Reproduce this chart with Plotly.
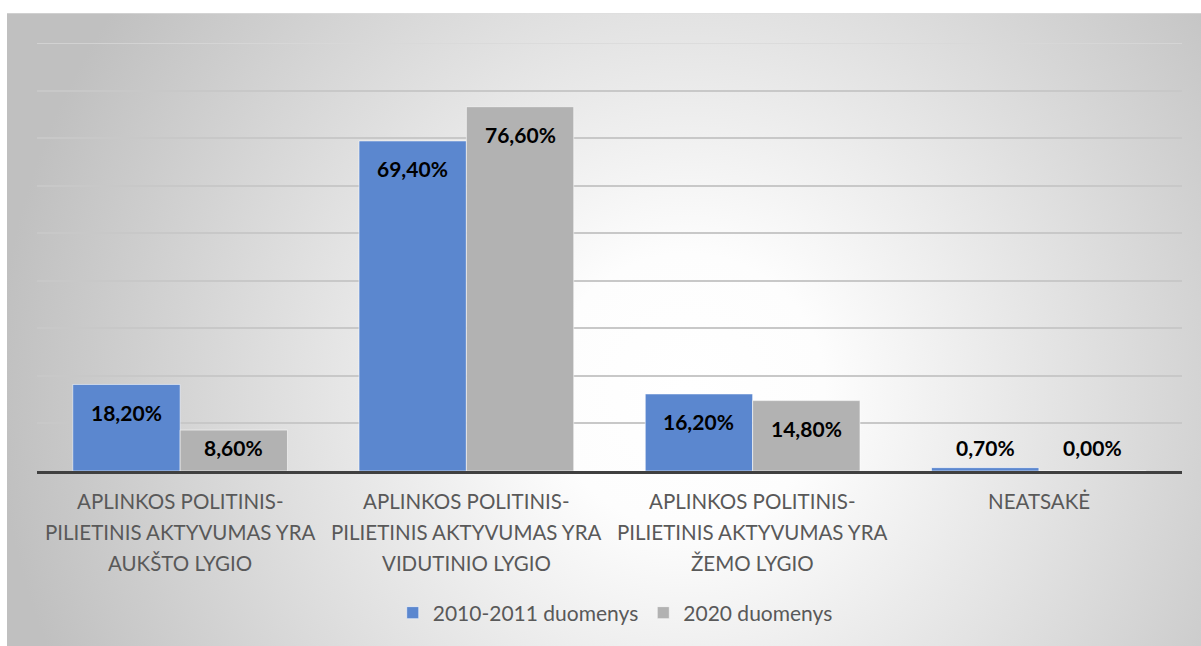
import base64
import plotly.graph_objects as go

categories = [
    "APLINKOS POLITINIS-<br>PILIETINIS AKTYVUMAS YRA<br>AUKŠTO LYGIO",
    "APLINKOS POLITINIS-<br>PILIETINIS AKTYVUMAS YRA<br>VIDUTINIO LYGIO",
    "APLINKOS POLITINIS-<br>PILIETINIS AKTYVUMAS YRA<br>ŽEMO LYGIO",
    "NEATSAKĖ",
]
series_names = ["2010-2011 duomenys", "2020 duomenys"]
values_2010 = [18.2, 69.4, 16.2, 0.7]
values_2020 = [8.6, 76.6, 14.8, 0.0]
colors = ["#5B87CF", "#B2B2B2"]

W, H = 1201, 646
L, R, T, B = 37, 19, 43, 172
plot_w = W - L - R
plot_h = H - T - B
y_max = 90

# radial gradient background panel (SVG)
pw, ph = 1194, 640
svg = (
    f"<svg xmlns='http://www.w3.org/2000/svg' width='{pw}' height='{ph}' viewBox='0 0 {pw} {ph}' preserveAspectRatio='none'>"
    "<defs><radialGradient id='g' gradientUnits='userSpaceOnUse' cx='680' cy='380' r='690'>"
    "<stop offset='0' stop-color='#ffffff'/>"
    "<stop offset='0.2' stop-color='#fdfdfd'/>"
    "<stop offset='1' stop-color='#c0c0c0'/>"
    "</radialGradient></defs>"
    f"<rect width='{pw}' height='{ph}' fill='url(#g)'/></svg>"
)
src = "data:image/svg+xml;base64," + base64.b64encode(svg.encode()).decode()

fig = go.Figure()
for name, vals, col in zip(series_names, [values_2010, values_2020], colors):
    fig.add_trace(go.Bar(
        x=categories, y=vals, name=name,
        marker=dict(color=col, line=dict(color="rgba(255,255,255,0.55)", width=1)),
        hoverinfo="skip",
    ))

px_per_unit = plot_h / y_max
group_w = plot_w / len(categories)
bar_off = group_w * 0.75 / 4

annotations = []
# data labels
for s, vals in enumerate([values_2010, values_2020]):
    for c, v in zip(categories, vals):
        ylab = max(v - 28 / px_per_unit, 24 / px_per_unit)
        annotations.append(dict(
            x=c, y=ylab, xref="x", yref="y", text=f"{v:.2f}".replace(".", ",") + "%",
            showarrow=False, xshift=(-bar_off if s == 0 else bar_off),
            yanchor="middle", xanchor="center",
            font=dict(family="Lato", size=21, color="#000000", weight="bold"),
        ))
# category labels (one annotation per line for Excel-like line spacing)
for c in categories:
    for j, line in enumerate(c.split("<br>")):
        annotations.append(dict(
            x=c, y=0, xref="x", yref="paper", text=line, showarrow=False,
            yanchor="middle", xanchor="center", yshift=-30 - 31 * j,
            font=dict(family="Lato", size=20.5, color="#595959"),
        ))

fx = lambda px: (px - L) / plot_w
fy = lambda py: (T + plot_h - py) / plot_h

shapes = [
    # white strips outside the chart panel
    dict(type="rect", xref="paper", yref="paper", x0=fx(-5), x1=fx(W + 5), y0=fy(-5), y1=fy(13),
         fillcolor="#ffffff", line=dict(width=0), layer="below"),
    dict(type="rect", xref="paper", yref="paper", x0=fx(-5), x1=fx(7), y0=fy(-5), y1=fy(H + 5),
         fillcolor="#ffffff", line=dict(width=0), layer="below"),
    # faint top gridline at axis max
    dict(type="line", xref="paper", yref="y", x0=0, x1=1, y0=y_max, y1=y_max,
         line=dict(color="#d8d8d8", width=1.5), layer="below"),
]

fig.update_layout(
    width=W, height=H,
    margin=dict(l=L, r=R, t=T, b=B, pad=0),
    paper_bgcolor="#c3c3c3",
    plot_bgcolor="rgba(0,0,0,0)",
    barmode="group", bargap=0.25, bargroupgap=0,
    showlegend=True,
    legend=dict(
        orientation="h", x=0.505, xanchor="center",
        y=fy(617), yanchor="middle",
        font=dict(family="Lato", size=21, color="#595959"),
        bgcolor="rgba(0,0,0,0)", itemwidth=30,
    ),
    xaxis=dict(
        showticklabels=False, showgrid=False, showline=True,
        linecolor="#404040", linewidth=3, ticks="", fixedrange=True,
    ),
    yaxis=dict(
        range=[0, y_max], dtick=10, showticklabels=False, showgrid=True,
        gridcolor="#c8c8c8", gridwidth=1.5, zeroline=False, showline=False,
        ticks="", fixedrange=True,
    ),
    annotations=annotations,
    shapes=shapes,
    images=[dict(
        source=src, xref="paper", yref="paper",
        x=fx(7), y=fy(13),
        sizex=pw / plot_w, sizey=ph / plot_h,
        xanchor="left", yanchor="top", sizing="stretch", layer="below",
    )],
)

fig.write_html(
    "out.html",
    config={"displayModeBar": False},
    post_script="document.body.style.margin='0';document.body.style.overflow='hidden';",
)
